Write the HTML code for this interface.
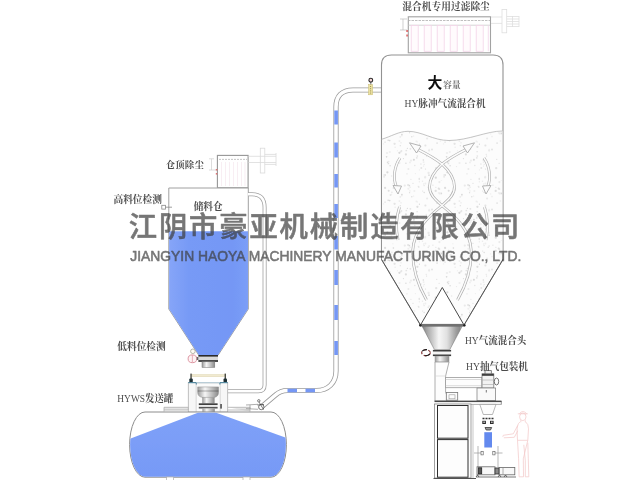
<!DOCTYPE html>
<html lang="zh-CN">
<head>
<meta charset="utf-8">
<title>江阴市豪亚机械制造有限公司 - HY脉冲气流混合机</title>
<style>
html,body{margin:0;padding:0;background:#fff;width:640px;height:480px;overflow:hidden}
svg{display:block}
</style>
</head>
<body>
<svg width="640" height="480" viewBox="0 0 640 480">
<defs>
<pattern id="conc" width="60" height="60" patternUnits="userSpaceOnUse"><rect width="60" height="60" fill="#fcfcfc"/><circle cx="19.4" cy="9.1" r="0.92" fill="#e4e4e4"/><circle cx="49.3" cy="5.6" r="0.88" fill="#d9d9d9"/><circle cx="12.9" cy="5.2" r="0.77" fill="#eaeaea"/><circle cx="5.4" cy="25.5" r="1.04" fill="#e4e4e4"/><circle cx="56.8" cy="37.8" r="0.88" fill="#e4e4e4"/><circle cx="34.6" cy="23.8" r="1.13" fill="#e4e4e4"/><circle cx="33.4" cy="8.0" r="0.77" fill="#d9d9d9"/><circle cx="7.1" cy="18.5" r="1.03" fill="#eaeaea"/><circle cx="6.2" cy="34.3" r="0.62" fill="#e4e4e4"/><circle cx="32.9" cy="3.8" r="0.54" fill="#eaeaea"/><circle cx="29.8" cy="31.9" r="1.01" fill="#eeeeee"/><circle cx="35.1" cy="27.2" r="0.69" fill="#eaeaea"/><circle cx="41.9" cy="14.6" r="0.87" fill="#d9d9d9"/><circle cx="29.7" cy="20.6" r="0.79" fill="#d9d9d9"/><circle cx="58.8" cy="7.1" r="0.77" fill="#dedede"/><circle cx="9.1" cy="29.3" r="0.53" fill="#e4e4e4"/><circle cx="45.9" cy="34.4" r="1.07" fill="#dedede"/><circle cx="20.4" cy="21.0" r="0.82" fill="#eeeeee"/><circle cx="4.1" cy="5.6" r="0.68" fill="#e4e4e4"/><circle cx="3.6" cy="42.1" r="0.92" fill="#eeeeee"/><circle cx="17.1" cy="23.1" r="0.93" fill="#e4e4e4"/><circle cx="56.4" cy="21.3" r="0.90" fill="#eeeeee"/><circle cx="3.5" cy="46.1" r="0.58" fill="#eaeaea"/><circle cx="23.9" cy="55.0" r="0.82" fill="#eaeaea"/><circle cx="27.0" cy="33.0" r="1.07" fill="#eeeeee"/><circle cx="51.8" cy="16.7" r="0.77" fill="#dedede"/><circle cx="41.0" cy="22.8" r="0.65" fill="#e4e4e4"/><circle cx="10.6" cy="13.9" r="0.65" fill="#eeeeee"/><circle cx="49.9" cy="10.9" r="0.68" fill="#eaeaea"/><circle cx="25.1" cy="22.2" r="0.87" fill="#eaeaea"/><circle cx="41.4" cy="30.9" r="0.90" fill="#e4e4e4"/><circle cx="27.4" cy="52.3" r="1.12" fill="#d9d9d9"/><circle cx="23.5" cy="23.9" r="0.57" fill="#eeeeee"/><circle cx="3.7" cy="4.0" r="0.64" fill="#eaeaea"/><circle cx="6.6" cy="36.0" r="0.57" fill="#d9d9d9"/><circle cx="9.1" cy="6.1" r="0.74" fill="#e4e4e4"/><circle cx="4.2" cy="12.5" r="0.74" fill="#dedede"/><circle cx="57.3" cy="36.1" r="0.81" fill="#e4e4e4"/><circle cx="50.9" cy="59.6" r="0.80" fill="#eeeeee"/><circle cx="18.7" cy="8.6" r="0.99" fill="#dedede"/><circle cx="28.7" cy="41.5" r="0.84" fill="#eaeaea"/><circle cx="57.1" cy="31.7" r="0.60" fill="#d9d9d9"/><circle cx="54.8" cy="45.5" r="0.69" fill="#e4e4e4"/><circle cx="41.8" cy="15.7" r="0.74" fill="#eaeaea"/><circle cx="21.3" cy="13.4" r="0.85" fill="#d9d9d9"/><circle cx="19.8" cy="13.4" r="1.03" fill="#eaeaea"/><circle cx="48.4" cy="49.1" r="0.98" fill="#eaeaea"/><circle cx="12.0" cy="29.6" r="0.98" fill="#e4e4e4"/><circle cx="47.4" cy="28.3" r="0.63" fill="#d9d9d9"/><circle cx="57.4" cy="26.8" r="1.11" fill="#dedede"/><circle cx="57.3" cy="21.9" r="0.64" fill="#eaeaea"/><circle cx="28.2" cy="20.3" r="0.81" fill="#d9d9d9"/><circle cx="50.4" cy="28.8" r="0.92" fill="#e4e4e4"/><circle cx="50.1" cy="7.2" r="0.75" fill="#eaeaea"/><circle cx="28.7" cy="10.7" r="1.01" fill="#dedede"/><circle cx="5.2" cy="56.8" r="0.97" fill="#eeeeee"/><circle cx="24.1" cy="56.8" r="0.97" fill="#eaeaea"/><circle cx="59.6" cy="1.7" r="0.88" fill="#eeeeee"/><circle cx="48.4" cy="8.8" r="1.04" fill="#eeeeee"/><circle cx="39.4" cy="21.0" r="0.86" fill="#eaeaea"/><circle cx="1.3" cy="48.0" r="0.97" fill="#e4e4e4"/><circle cx="31.6" cy="56.0" r="0.78" fill="#eaeaea"/><circle cx="49.6" cy="12.7" r="0.66" fill="#dedede"/><circle cx="30.1" cy="45.8" r="0.71" fill="#d9d9d9"/><circle cx="25.1" cy="7.9" r="1.09" fill="#dedede"/><circle cx="53.9" cy="39.7" r="1.03" fill="#d9d9d9"/><circle cx="25.2" cy="55.1" r="0.83" fill="#d9d9d9"/><circle cx="9.1" cy="30.6" r="1.07" fill="#eaeaea"/><circle cx="36.5" cy="46.6" r="0.60" fill="#eaeaea"/><circle cx="28.4" cy="43.5" r="0.86" fill="#dedede"/><circle cx="40.9" cy="31.8" r="0.81" fill="#e4e4e4"/><circle cx="53.0" cy="3.4" r="0.62" fill="#e4e4e4"/><circle cx="46.3" cy="30.5" r="0.87" fill="#e4e4e4"/><circle cx="26.6" cy="36.8" r="0.83" fill="#d9d9d9"/><circle cx="12.0" cy="16.6" r="0.83" fill="#eeeeee"/><circle cx="30.5" cy="14.9" r="0.84" fill="#dedede"/><circle cx="55.4" cy="53.6" r="0.63" fill="#eeeeee"/><circle cx="8.2" cy="7.3" r="0.79" fill="#e4e4e4"/><circle cx="40.3" cy="25.7" r="0.64" fill="#dedede"/><circle cx="47.0" cy="53.8" r="0.60" fill="#dedede"/><circle cx="8.6" cy="53.0" r="1.13" fill="#eaeaea"/><circle cx="44.8" cy="5.6" r="1.08" fill="#eaeaea"/><circle cx="59.4" cy="49.9" r="0.60" fill="#eeeeee"/><circle cx="59.6" cy="24.2" r="0.77" fill="#dedede"/><circle cx="19.1" cy="43.3" r="0.51" fill="#d9d9d9"/><circle cx="27.5" cy="42.2" r="0.75" fill="#d9d9d9"/><circle cx="37.4" cy="30.7" r="0.54" fill="#eaeaea"/><circle cx="58.3" cy="6.3" r="0.67" fill="#e4e4e4"/><circle cx="54.4" cy="10.9" r="0.99" fill="#eeeeee"/><circle cx="51.0" cy="40.6" r="1.11" fill="#eeeeee"/><circle cx="9.0" cy="55.2" r="0.87" fill="#dedede"/><circle cx="5.4" cy="3.5" r="0.95" fill="#eeeeee"/><circle cx="53.7" cy="16.1" r="0.51" fill="#e4e4e4"/><circle cx="48.1" cy="5.0" r="1.06" fill="#e4e4e4"/><circle cx="15.9" cy="7.3" r="0.51" fill="#d9d9d9"/><circle cx="25.1" cy="54.9" r="0.90" fill="#e4e4e4"/><circle cx="31.6" cy="14.3" r="0.57" fill="#eaeaea"/><circle cx="15.7" cy="10.9" r="1.11" fill="#dedede"/><circle cx="31.9" cy="12.4" r="0.79" fill="#eaeaea"/><circle cx="16.2" cy="48.2" r="1.15" fill="#e4e4e4"/><circle cx="0.9" cy="44.0" r="0.86" fill="#eaeaea"/><circle cx="30.9" cy="14.7" r="0.79" fill="#eeeeee"/><circle cx="39.4" cy="32.8" r="1.08" fill="#d9d9d9"/><circle cx="18.5" cy="12.9" r="0.65" fill="#eaeaea"/><circle cx="49.9" cy="42.4" r="0.91" fill="#eeeeee"/><circle cx="59.4" cy="58.9" r="1.04" fill="#e4e4e4"/><circle cx="4.2" cy="44.5" r="0.67" fill="#eaeaea"/><circle cx="3.3" cy="39.9" r="0.75" fill="#d9d9d9"/><circle cx="40.2" cy="16.9" r="0.66" fill="#dedede"/><circle cx="2.7" cy="11.1" r="0.67" fill="#e4e4e4"/><circle cx="15.8" cy="57.7" r="1.13" fill="#d9d9d9"/><circle cx="19.4" cy="2.1" r="1.07" fill="#eaeaea"/><circle cx="21.4" cy="0.1" r="0.75" fill="#eeeeee"/><circle cx="16.7" cy="39.4" r="0.66" fill="#e4e4e4"/><circle cx="5.5" cy="49.0" r="0.59" fill="#d9d9d9"/><circle cx="2.5" cy="1.3" r="0.70" fill="#eaeaea"/><circle cx="5.1" cy="57.5" r="1.05" fill="#eaeaea"/><circle cx="39.5" cy="43.0" r="1.07" fill="#eeeeee"/><circle cx="45.9" cy="43.2" r="0.82" fill="#dedede"/><circle cx="43.4" cy="38.6" r="0.53" fill="#d9d9d9"/></pattern>
<linearGradient id="metal" x1="0" x2="1" y1="0" y2="0">
<stop offset="0" stop-color="#7c7c7c"/><stop offset="0.12" stop-color="#a4a4a4"/><stop offset="0.42" stop-color="#f6f6f6"/><stop offset="0.62" stop-color="#e0e0e0"/><stop offset="0.85" stop-color="#9c9c9c"/><stop offset="0.94" stop-color="#8a8a8a"/><stop offset="1" stop-color="#d8d8d8"/>
</linearGradient>
<linearGradient id="metal2" x1="0" x2="1" y1="0" y2="0">
<stop offset="0" stop-color="#9a9a9a"/><stop offset="0.35" stop-color="#f6f6f6"/><stop offset="1" stop-color="#8a8a8a"/>
</linearGradient>
<linearGradient id="blueS" x1="0" x2="1" y1="0" y2="0">
<stop offset="0" stop-color="#86a5f8"/><stop offset="0.25" stop-color="#779af6"/><stop offset="0.8" stop-color="#7497f5"/><stop offset="1" stop-color="#7b9ef7"/>
</linearGradient>
<linearGradient id="blueT" x1="0" x2="0" y1="0" y2="1">
<stop offset="0" stop-color="#7fa1f8"/><stop offset="1" stop-color="#7699f6"/>
</linearGradient>
<filter id="soft" x="-5%" y="-5%" width="110%" height="110%"><feGaussianBlur stdDeviation="0.45"/></filter>
<filter id="softer" x="-5%" y="-5%" width="110%" height="110%"><feGaussianBlur stdDeviation="0.6"/></filter>
</defs>
<rect width="640" height="480" fill="#ffffff"/>
<g filter="url(#soft)">

<!-- ============ LEFT: storage silo ============ -->
<g id="silo">
<!-- dust collector on silo -->
<rect x="217.4" y="155.4" width="30.7" height="32.4" fill="#fff" stroke="#969696" stroke-width="1.1"/>
<line x1="219" y1="159.4" x2="247" y2="159.4" stroke="#b8b8b8" stroke-width="0.8" stroke-dasharray="2 1"/>
<g stroke="#f5e6ee" stroke-width="0.7">
<line x1="221.5" y1="162" x2="221.5" y2="186"/><line x1="225.500" y1="162" x2="225.500" y2="186"/><line x1="229.500" y1="162" x2="229.500" y2="186"/><line x1="233.500" y1="162" x2="233.500" y2="186"/><line x1="237.500" y1="162" x2="237.500" y2="186"/><line x1="241.500" y1="162" x2="241.500" y2="186"/><line x1="245" y1="162" x2="245" y2="186"/>
</g>
<!-- small dimension marks left of box -->
<g stroke="#cfcfcf" stroke-width="0.7" fill="none"><line x1="209" y1="158.800" x2="214" y2="158.800"/><line x1="211.500" y1="158.800" x2="211.500" y2="170"/><line x1="209" y1="170" x2="216" y2="170"/></g>
<rect x="215.800" y="169" width="1.500" height="1.600" fill="#d77"/><rect x="215.800" y="173" width="1.500" height="1.600" fill="#d77"/>
<!-- fan -->
<g stroke="#dadada" stroke-width="0.8" fill="none">
<line x1="248.500" y1="156.300" x2="276" y2="156.300"/><line x1="248.500" y1="162.500" x2="276" y2="162.500"/>
<rect x="260.300" y="148.200" width="4.500" height="24.800"/>
<line x1="264.800" y1="154.400" x2="276" y2="154.400"/><line x1="264.800" y1="164.400" x2="276" y2="164.400"/>
<line x1="276" y1="153" x2="276" y2="166"/>
</g>
<!-- silo body -->
<path d="M168.8 188 H248.3 V309 L218 355.3 H198.800 L168.8 309 Z" fill="#fff" stroke="#a0a0a0" stroke-width="1"/>
<path d="M169.1 231.2 H248 V309 L217.8 355.3 H199 L169.1 309 Z" fill="url(#blueS)"/>
<!-- high level sensor -->
<rect x="161.8" y="205.3" width="3.6" height="3.8" fill="#fff" stroke="#888" stroke-width="0.8"/>
<line x1="165.4" y1="207.2" x2="172" y2="207.2" stroke="#888" stroke-width="0.8"/>
</g>

<!-- silo vent pipe (right side) -->
<path d="M248 194.3 H252 Q264.6 194.3 264.6 207.5 V385 Q264.6 391.2 258.4 391.2 H227.7" fill="none" stroke="#a2a2a2" stroke-width="4"/>
<path d="M248 194.3 H252 Q264.6 194.3 264.6 207.5 V385 Q264.6 391.2 258.4 391.2 H227.7" fill="none" stroke="#fff" stroke-width="2.4"/>

<!-- flange under silo -->
<rect x="198.4" y="355" width="19.6" height="6.8" fill="#d9d9d9"/>
<rect x="198.4" y="355" width="19.6" height="1.6" fill="#2b2b2b"/>
<rect x="198.4" y="360.2" width="19.6" height="1.6" fill="#2b2b2b"/>
<rect x="202" y="361.8" width="12.8" height="5.6" fill="url(#metal2)" stroke="#777" stroke-width="0.5"/>
<!-- low level sensor (red circle) -->
<circle cx="192.9" cy="351.3" r="2.3" fill="#fffdf4" stroke="#9a9a8a" stroke-width="0.7"/>
<ellipse cx="192.4" cy="358.8" rx="4.3" ry="3.9" fill="#fdf3f5" stroke="#dc94a0" stroke-width="1"/>
<line x1="192.4" y1="355" x2="192.4" y2="362.5" stroke="#e3a0aa" stroke-width="0.8"/>
<rect x="196.7" y="357" width="1.7" height="3" fill="#666"/>

<!-- valve assembly -->
<rect x="192" y="374.5" width="32.3" height="2.2" fill="#f1ead0" stroke="#d5caa0" stroke-width="0.35"/>
<rect x="190.4" y="373.6" width="1.3" height="6" fill="#3a3a30"/><rect x="224.6" y="373.6" width="1.3" height="6" fill="#3a3a30"/>
<rect x="189.3" y="378.6" width="3.5" height="3.8" rx="1" fill="#1f2e33"/><rect x="223.5" y="378.6" width="3.5" height="3.8" rx="1" fill="#1f2e33"/>
<rect x="188.3" y="382.6" width="39.4" height="29.6" fill="#f7f7f7" stroke="#b0b0b0" stroke-width="0.8"/>
<rect x="196.1" y="383" width="24" height="29" fill="#fbfbfb" stroke="#c0c0c0" stroke-width="0.6"/>
<path d="M188.3 382.7 H196.3 V384.5 M227.7 382.7 H219.9 V384.5" fill="none" stroke="#3f7f9a" stroke-width="1"/>
<line x1="196.3" y1="382.7" x2="219.9" y2="382.7" stroke="#b9d3e0" stroke-width="0.9"/>
<path d="M197.7 386.9 H218.5 V392.6 Q218.5 396.6 214.4 397.4 H202.4 Q197.7 396.6 197.7 392.6 Z" fill="url(#metal2)" stroke="#8a8a8a" stroke-width="0.5"/>
<rect x="197.7" y="390.2" width="20.8" height="1.6" fill="#000" fill-opacity="0.18"/>
<rect x="202.4" y="397.4" width="12" height="6.2" fill="url(#metal2)" stroke="#999" stroke-width="0.4"/>
<rect x="198.8" y="403.4" width="18.8" height="5.2" fill="#ececec"/>
<rect x="198.8" y="403.4" width="18.8" height="1.5" fill="#2e2e2e"/><rect x="198.8" y="406.9" width="18.8" height="1.6" fill="#555"/>
<rect x="202.4" y="408.6" width="12.4" height="3.6" fill="url(#metal2)"/>
<rect x="220.3" y="404" width="1.5" height="4.6" fill="#444"/>

<!-- ============ sending tank ============ -->
<path d="M164 411.5 V407.3 H188.3 V410 H164 M227.7 407.3 H250 V411.5 M227.7 410 H250" fill="#e4e4e4" stroke="#b0b0b0" stroke-width="0.8"/>
<path d="M145 412 H271 A15.4 32.6 0 0 1 271 477.2 H145 A15.4 32.6 0 0 1 145 412 Z" fill="#fff" stroke="#8c8c8c" stroke-width="1"/>
<clipPath id="tankclip"><path d="M145 412.500 H271 A14.900 32.100 0 0 1 271 476.700 H145 A14.900 32.100 0 0 1 145 412.500 Z"/></clipPath>
<path clip-path="url(#tankclip)" d="M198.500 412.600 H215.500 L287 438 V480 H128 V439.600 Z" fill="url(#blueT)"/>
<rect x="166.5" y="477" width="7" height="3.5" fill="#fff" stroke="#aaa" stroke-width="0.7"/>
<rect x="243" y="477" width="7" height="3.5" fill="#fff" stroke="#aaa" stroke-width="0.7"/>

<!-- ============ main conveying pipe ============ -->
<g fill="none">
<path id="mp" d="M262 406.5 L275.5 395 Q280.5 390.5 287.5 390.5 H316.5 C328 390.5 336 383 336 371 V107 C336 96 342 90 353 90 H381" stroke="#9a9a9a" stroke-width="5.2"/>
<path d="M262 406.5 L275.5 395 Q280.5 390.5 287.5 390.5 H316.5 C328 390.5 336 383 336 371 V107 C336 96 342 90 353 90 H381" stroke="#fff" stroke-width="3.6"/>
</g>
<rect x="334.3" y="110.5" width="3.6" height="14.0" fill="#7497f5"/><rect x="334.3" y="142.5" width="3.6" height="15.0" fill="#7497f5"/><rect x="334.3" y="174" width="3.6" height="13.5" fill="#7497f5"/><rect x="334.3" y="204" width="3.6" height="14" fill="#7497f5"/><rect x="334.3" y="236" width="3.6" height="13.5" fill="#7497f5"/><rect x="334.3" y="270" width="3.6" height="15" fill="#7497f5"/><rect x="334.3" y="305" width="3.6" height="15" fill="#7497f5"/><rect x="334.3" y="341" width="3.6" height="14" fill="#7497f5"/>
<rect x="287.5" y="388.7" width="9.5" height="3.6" fill="#7497f5"/><rect x="305.5" y="388.7" width="9.5" height="3.6" fill="#7497f5"/>
<!-- valve at tank outlet -->
<g stroke="#555" stroke-width="0.8" fill="#fff">
<path d="M246 405 L258 404.3 M246 408.6 L258 409.3 M250 405 V409" fill="none" stroke="#999"/>
<circle cx="261.3" cy="407" r="2.7"/><circle cx="258.8" cy="400.8" r="1.2"/>
<path d="M259 402 L263.5 409.5 M257.5 405 L264 404.5" fill="none" stroke="#444" stroke-width="0.7"/>
</g>
<!-- valve at mixer inlet -->
<rect x="368.6" y="84.5" width="4" height="10.3" fill="#ebe2a2" stroke="#c9bb6e" stroke-width="0.5"/>
<line x1="370.6" y1="86" x2="370.6" y2="93.5" stroke="#8a7a3a" stroke-width="0.8" stroke-dasharray="1 1.2"/>
<line x1="370.8" y1="82" x2="370.8" y2="84.5" stroke="#555" stroke-width="0.8"/>
<circle cx="370.8" cy="80.2" r="1.9" fill="#f6d6d6" stroke="#2a2a2a" stroke-width="1.1"/>

<!-- ============ RIGHT: mixer ============ -->
<!-- filter box -->
<rect x="408.3" y="16.8" width="82.2" height="36" fill="#fff" stroke="#a2a2a2" stroke-width="1.1"/>
<line x1="408" y1="20.5" x2="490" y2="20.5" stroke="#b0b0b0" stroke-width="0.8" stroke-dasharray="2.5 1"/>
<line x1="408" y1="25.2" x2="490" y2="25.2" stroke="#c4c4c4" stroke-width="0.7"/>
<g stroke="#f3d4e8" stroke-width="0.8" fill="#fffbfd">
<rect x="411.2" y="25.5" width="7.0" height="25.8"/><rect x="424.2" y="25.5" width="7.0" height="25.8"/><rect x="437.2" y="25.5" width="7.0" height="25.8"/><rect x="450.2" y="25.5" width="7.0" height="25.8"/><rect x="463.2" y="25.5" width="7.0" height="25.8"/><rect x="476.2" y="25.5" width="7.0" height="25.8"/>
<line x1="488.3" y1="25.5" x2="488.3" y2="51.3"/>
</g>
<g stroke="#bbb" stroke-width="0.7" fill="none"><line x1="400" y1="19" x2="407" y2="19"/><line x1="403" y1="19" x2="403" y2="30"/><line x1="400" y1="30" x2="407" y2="30"/></g>
<rect x="406.3" y="30" width="1.6" height="2" fill="#d66"/><rect x="406.3" y="34.5" width="1.6" height="2" fill="#d66"/>
<!-- fan on filter -->
<g stroke="#dedede" stroke-width="0.8" fill="none">
<line x1="491" y1="17" x2="502" y2="17"/><line x1="491" y1="23.4" x2="502" y2="23.4"/>
<rect x="502" y="9.4" width="4.7" height="23.4"/>
<line x1="506.7" y1="16.5" x2="519" y2="16.5"/><line x1="506.7" y1="19" x2="519" y2="19"/><line x1="506.7" y1="21.500" x2="519" y2="21.500"/><line x1="506.7" y1="24" x2="519" y2="24"/><line x1="506.7" y1="26.500" x2="519" y2="26.500"/>
<line x1="519" y1="16" x2="519" y2="27"/><line x1="512.500" y1="16" x2="512.500" y2="27"/>
</g>
<!-- mixer body -->
<path d="M391.5 55 H493 Q503 55 503 65 V259 L464 325 H420.5 L381.5 259 V65 Q381.5 55 391.5 55 Z" fill="#fff" stroke="#929292" stroke-width="1.1"/>
<path d="M381.6 139.3 C391 136.5 399 131.3 408 131.3 C422 131.3 433 140.5 449 140.5 C468 140.5 487 131 502.4 131 V259 L463.7 324.5 H420.8 L382 259 V139.3 Z" fill="url(#conc)"/>
<path d="M381.6 139.3 C391 136.5 399 131.3 408 131.3 C422 131.3 433 140.5 449 140.5 C468 140.5 487 131 502.4 131" fill="none" stroke="#b5b5b5" stroke-width="0.8"/>
<!-- cone edges darker -->
<path d="M381.5 259.5 L420.5 325 M503 259.5 L464 325" stroke="#4a4a4a" stroke-width="0.85" fill="none"/>
<!-- inner cone -->
<path d="M420.5 325 L442.3 287.5 L464 325 Z" fill="#fff" stroke="#333" stroke-width="0.9"/>
<!-- helix arrows -->
<g fill="none" stroke="#b0b0b0" stroke-width="2.8"><path d="M 418 149.5 C 427 154 435 158.5 442 164 C 449 170.5 454.5 179 454.5 187 C 454.5 195 448 200 441.5 206 C 428 217 414 230 412.8 250 C 412 268 418 285 426.5 300"/><path d="M 466.0 149.5 C 457.0 154.0 449.0 158.5 442.0 164.0 C 435.0 170.5 429.5 179.0 429.5 187.0 C 429.5 195.0 436.0 200.0 442.5 206.0 C 456.0 217.0 470.0 230.0 471.2 250.0 C 472.0 268.0 466.0 285.0 457.5 300.0"/><path d="M 400 158 C 394.5 166 392.5 178 396.5 187"/><path d="M 484.0 158.0 C 489.5 166.0 491.5 178.0 487.5 187.0"/><path d="M 399.5 207 C 396.5 216 395.5 228 398 240"/><path d="M 484.5 207.0 C 487.5 216.0 488.5 228.0 486.0 240.0"/></g><g fill="none" stroke="#fcfcfc" stroke-width="1.5"><path d="M 418 149.5 C 427 154 435 158.5 442 164 C 449 170.5 454.5 179 454.5 187 C 454.5 195 448 200 441.5 206 C 428 217 414 230 412.8 250 C 412 268 418 285 426.5 300"/><path d="M 466.0 149.5 C 457.0 154.0 449.0 158.5 442.0 164.0 C 435.0 170.5 429.5 179.0 429.5 187.0 C 429.5 195.0 436.0 200.0 442.5 206.0 C 456.0 217.0 470.0 230.0 471.2 250.0 C 472.0 268.0 466.0 285.0 457.5 300.0"/><path d="M 400 158 C 394.5 166 392.5 178 396.5 187"/><path d="M 484.0 158.0 C 489.5 166.0 491.5 178.0 487.5 187.0"/><path d="M 399.5 207 C 396.5 216 395.5 228 398 240"/><path d="M 484.5 207.0 C 487.5 216.0 488.5 228.0 486.0 240.0"/></g><g fill="#fcfcfc" stroke="#a2a2a2" stroke-width="0.8"><path d="M 409.5 142.8 L 421 146 L 416.5 153 Z"/><path d="M 474.5 142.8 L 463.0 146.0 L 467.5 153.0 Z"/><path d="M 393 185.5 L 401.5 186 L 398 194 Z"/><path d="M 491.0 185.5 L 482.5 186.0 L 486.0 194.0 Z"/></g>
<!-- mixing head funnel -->
<path d="M422 326 H462.3 L449.8 349.6 H434.4 Z" fill="url(#metal)" stroke="#6a6a6a" stroke-width="0.5"/>
<rect x="419.9" y="323.9" width="44.8" height="2.6" fill="#6f6f6f"/>
<circle cx="420.3" cy="325.2" r="1.2" fill="#222"/><circle cx="464.4" cy="325.2" r="1.2" fill="#222"/>
<rect x="432.9" y="349.9" width="18.2" height="6.2" fill="#f4f4f4"/>
<rect x="432.9" y="349.9" width="18.2" height="1.6" fill="#3c3c3c"/><rect x="432.9" y="354.5" width="18.2" height="1.6" fill="#3c3c3c"/>
<rect x="435" y="356.1" width="14" height="6" fill="url(#metal2)" stroke="#999" stroke-width="0.5"/>
<!-- valve symbol -->
<ellipse cx="426" cy="352.7" rx="4.3" ry="3" fill="#fff" stroke="#7a2a2a" stroke-width="1.1" stroke-dasharray="3.2 1.6"/>
<path d="M422.2 351.2 Q424 349.4 427 349.7 M429.8 354.2 Q428 356 425 355.7" fill="none" stroke="#1a1a1a" stroke-width="1.1"/>

<!-- ============ packing machine ============ -->
<g stroke="#9a9a9a" stroke-width="0.8" fill="#fdfdfd">
<path d="M435 362 H449 L445.6 376 V392.5 L447 395 V401 H435 Z"/>
<line x1="435.5" y1="376" x2="445.6" y2="376" stroke="#d0d0d0" stroke-width="0.6"/>
<rect x="445.6" y="377.5" width="36.4" height="10.2"/>
<line x1="445.6" y1="379.5" x2="482" y2="379.5" stroke="#c4c4c4" stroke-width="0.6"/><line x1="445.6" y1="385.7" x2="482" y2="385.7" stroke="#c4c4c4" stroke-width="0.6"/>
<rect x="446.3" y="392.5" width="11.4" height="7.7" stroke="#777"/>
<rect x="449" y="394.8" width="6" height="4" stroke="#999" stroke-width="0.6"/>
<rect x="482" y="373.8" width="11.8" height="14.2" fill="#f2f2f2" stroke="#777"/>
<rect x="482" y="373.8" width="11.8" height="2" fill="#3a3a3a" stroke="none"/>
<line x1="482" y1="380" x2="493.800" y2="380" stroke="#aaa" stroke-width="0.6"/><line x1="482" y1="384.500" x2="493.800" y2="384.500" stroke="#aaa" stroke-width="0.6"/>
<rect x="485" y="370.6" width="6.3" height="3.2" fill="#eee" stroke="#666"/>
<ellipse cx="496.5" cy="381.5" rx="2.2" ry="3.5" stroke="#555"/>
<rect x="477" y="388" width="18.6" height="12.6" fill="#fafafa" stroke="#888"/>
<line x1="486.3" y1="390" x2="486.3" y2="392.5" stroke="#555" stroke-width="0.8"/>
</g>
<rect x="434.5" y="400.6" width="67" height="1.5" fill="#4a4a4a"/>
<line x1="434.5" y1="404.4" x2="501.5" y2="404.4" stroke="#8a8a8a" stroke-width="0.7"/>
<line x1="501.3" y1="401" x2="501.3" y2="404.400" stroke="#666" stroke-width="0.7"/>
<rect x="434.5" y="404" width="36.500" height="74" fill="#fdfdfd" stroke="#8a8a8a" stroke-width="0.8"/>
<line x1="473" y1="404.400" x2="473" y2="478" stroke="#b0b0b0" stroke-width="0.7"/>
<rect x="437.5" y="405.5" width="30.500" height="32.7" fill="#fdfdfd" stroke="#2e2e2e" stroke-width="1"/>
<rect x="437.5" y="439.6" width="30.500" height="37.600" fill="#fdfdfd" stroke="#2e2e2e" stroke-width="1"/>
<line x1="433.500" y1="478.500" x2="476" y2="478.500" stroke="#444" stroke-width="0.9"/>
<path d="M479.8 404.4 H496 L492.5 414.500 H483.300 Z" fill="#fdfdfd" stroke="#9a9a9a" stroke-width="0.7"/>
<line x1="482.500" y1="418.500" x2="494" y2="418.500" stroke="#333" stroke-width="1.600" stroke-dasharray="2 1"/>
<rect x="482.300" y="420.800" width="3.600" height="3.200" fill="#2a2a2a"/><rect x="490" y="420.800" width="3.600" height="3.200" fill="#2a2a2a"/>
<rect x="483.300" y="421.600" width="1.600" height="1.200" fill="#ddd"/><rect x="491" y="421.600" width="1.600" height="1.200" fill="#ddd"/>
<path d="M485 427.500 H491.700 L490.500 430 H486.200 Z" fill="#999" stroke="#3a3a3a" stroke-width="0.8"/>
<rect x="484.300" y="432.200" width="7.700" height="15.300" fill="#6389ee"/>
<g stroke="#9a9a9a" stroke-width="0.7" fill="none">
<line x1="478" y1="446" x2="478" y2="467"/><line x1="498" y1="446" x2="498" y2="467"/>
<line x1="474" y1="453" x2="481" y2="453"/><line x1="495" y1="453" x2="502.500" y2="453"/>
</g>
<rect x="481" y="451.300" width="2.200" height="3.600" fill="#fff" stroke="#555" stroke-width="0.600"/><rect x="492.800" y="451.300" width="2.200" height="3.600" fill="#fff" stroke="#555" stroke-width="0.600"/>
<g stroke="#666" stroke-width="0.800" fill="#f8f8f8">
<rect x="477" y="466.800" width="18" height="8"/><rect x="478.300" y="467.800" width="3.400" height="6" fill="#555" stroke="#222"/>
<rect x="499" y="467.500" width="15.800" height="7.300"/><rect x="495" y="468" width="4" height="6" fill="#888" stroke="#333"/>
<line x1="503" y1="468" x2="503" y2="474.500" stroke="#999"/>
<line x1="476" y1="477" x2="516" y2="477" stroke="#555"/>
<path d="M476 477 L477.500 475 L479 477 M498 477 L499.500 475 L501 477 M504 477 L505.500 475 L507 477" fill="none" stroke="#444"/>
</g>
<!-- operator (pink outline) -->
<g fill="none" stroke="#f3c9c9" stroke-width="0.750" transform="translate(1.300,0.800)">
<ellipse cx="521.500" cy="416" rx="3.200" ry="3.800"/>
<path d="M516.500 413 H526.500 M518 413 Q521.500 408.500 525.500 413"/>
<path d="M519.500 419.500 V421.500 M524 419.500 V421.500"/>
<path d="M518.500 421.300 Q515.500 423.500 515.800 431 L516.200 439.500 H526.500 L527.200 428 Q527.200 423 524.500 421.300"/>
<path d="M516.500 424.500 L512 433 L502 434.500 L501.500 436 M516.500 430 L513 436.500 L502.500 437"/>
<path d="M516.200 439.500 L517.300 458 L517.800 476 H522.200 L522 458 L526.500 439.500"/>
<path d="M522.500 444 L524 460 L524 476 H527.500 L527 458 L526.500 442"/>
</g>
</g>

<!-- ============ labels ============ -->
<g font-family="'Liberation Serif','Noto Serif CJK SC',serif" font-size="9.7" fill="#4c4c4c" font-weight="700" filter="url(#soft)">
<text x="402.3" y="10.4" textLength="87.5" lengthAdjust="spacing">混合机专用过滤除尘</text>
<text x="443.3" y="88.3" font-size="8.6" fill="#707070">容量</text>
<text x="404.5" y="106.5" textLength="81" lengthAdjust="spacingAndGlyphs"><tspan font-weight="500">HY</tspan>脉冲气流混合机</text>
<text x="165.8" y="168" font-size="9.4" textLength="38" lengthAdjust="spacing">仓顶除尘</text>
<text x="113.5" y="202.5">高料位检测</text>
<text x="193.7" y="210">储料仓</text>
<text x="117.300" y="349.800">低料位检测</text>
<text x="117.3" y="401.8" textLength="56" lengthAdjust="spacingAndGlyphs"><tspan font-weight="500">HYWS</tspan>发送罐</text>
<text x="465" y="344" textLength="61.3" lengthAdjust="spacingAndGlyphs"><tspan font-weight="500">HY</tspan>气流混合头</text>
<text x="466" y="370" textLength="62" lengthAdjust="spacingAndGlyphs"><tspan font-weight="500">HY</tspan>抽气包装机</text>
</g>
<text x="427.6" y="87.8" font-family="'Liberation Sans','Noto Sans CJK SC',sans-serif" font-weight="700" font-size="14.8" fill="#111" filter="url(#soft)">大</text>

<!-- ============ watermark ============ -->
<g filter="url(#softer)" opacity="0.70" fill="#3c3c3c" stroke="#3c3c3c" stroke-linejoin="round">
<text id="wm1" x="128.7" y="237.1" font-family="'Liberation Sans','Noto Sans CJK SC',sans-serif" font-weight="500" font-size="28.3" stroke-width="0.6" textLength="390.5" lengthAdjust="spacing">江阴市豪亚机械制造有限公司</text>
<text id="wm2" x="130.3" y="260.8" font-family="'Liberation Sans','Noto Sans CJK SC',sans-serif" font-weight="400" font-size="13.8" stroke-width="0.55" textLength="391" lengthAdjust="spacingAndGlyphs">JIANGYIN HAOYA MACHINERY MANUFACTURING CO., LTD.</text>
</g>
</svg>
</body>
</html>
